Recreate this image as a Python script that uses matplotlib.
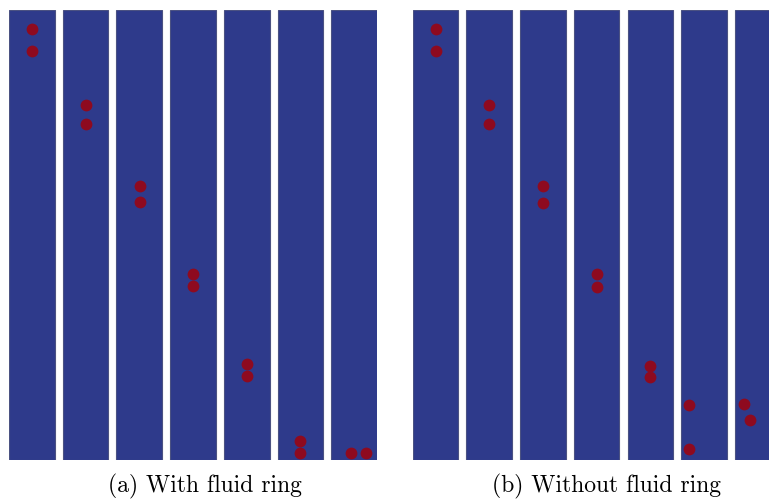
import matplotlib
matplotlib.use("Agg")
import matplotlib.pyplot as plt
from matplotlib.patches import Rectangle

# strip snapshots, coordinates local to each strip (width 1, height 10)
n_strips = 7
strip_w = 1.0
strip_h = 10.0
pitch = 1.179

# (a) with fluid ring: per strip, x and y of the particles
a_x = [[0.50, 0.50], [0.51, 0.51], [0.51, 0.51], [0.50, 0.50],
       [0.51, 0.51], [0.50, 0.50], [0.44, 0.75]]
a_y = [[9.58, 9.09], [7.90, 7.46], [6.09, 5.73], [4.14, 3.86],
       [2.13, 1.86], [0.43, 0.15], [0.16, 0.16]]

# (b) without fluid ring
b_x = [[0.51, 0.51], [0.49, 0.49], [0.51, 0.51], [0.50, 0.50],
       [0.50, 0.50], [0.16, 0.16], [0.19, 0.32]]
b_y = [[9.58, 9.09], [7.90, 7.46], [6.08, 5.72], [4.13, 3.84],
       [2.10, 1.85], [1.22, 0.24], [1.24, 0.90]]

captions = ["(a) With fluid ring", "(b) Without fluid ring"]

fluid_col = "#2E3A8B"
edge_col = "#4B5282"
dot_col = "#8E0A1F"

W, H = 769, 503
fig = plt.figure(figsize=(W / 100, H / 100), dpi=100)

px_per_unit = 45.58
top, bottom = 10, 460


def panel(left_px, xs, ys):
    width_px = min((n_strips - 1) * pitch + strip_w, (W - left_px) / px_per_unit)
    ax = fig.add_axes([left_px / W, 1 - bottom / H,
                       width_px * px_per_unit / W, (bottom - top) / H])
    for i in range(n_strips):
        x0 = i * pitch
        ax.add_patch(Rectangle((x0, 0), strip_w, strip_h, facecolor=fluid_col,
                               edgecolor=edge_col, linewidth=0.8))
        ax.scatter([x0 + v for v in xs[i]], ys[i], s=72, color=dot_col,
                   linewidths=0, zorder=3)
    ax.set_xlim(0, width_px)
    ax.set_ylim(0, strip_h)
    ax.axis("off")
    return ax


panel(9, a_x, a_y)
panel(412.7, b_x, b_y)

fig.text(204.5 / W, 1 - 486 / H, captions[0], ha="center", va="center",
         fontname="cmr10", fontsize=17)
fig.text(606.5 / W, 1 - 486 / H, captions[1], ha="center", va="center",
         fontname="cmr10", fontsize=17)

fig.savefig("out.png", dpi=100)
